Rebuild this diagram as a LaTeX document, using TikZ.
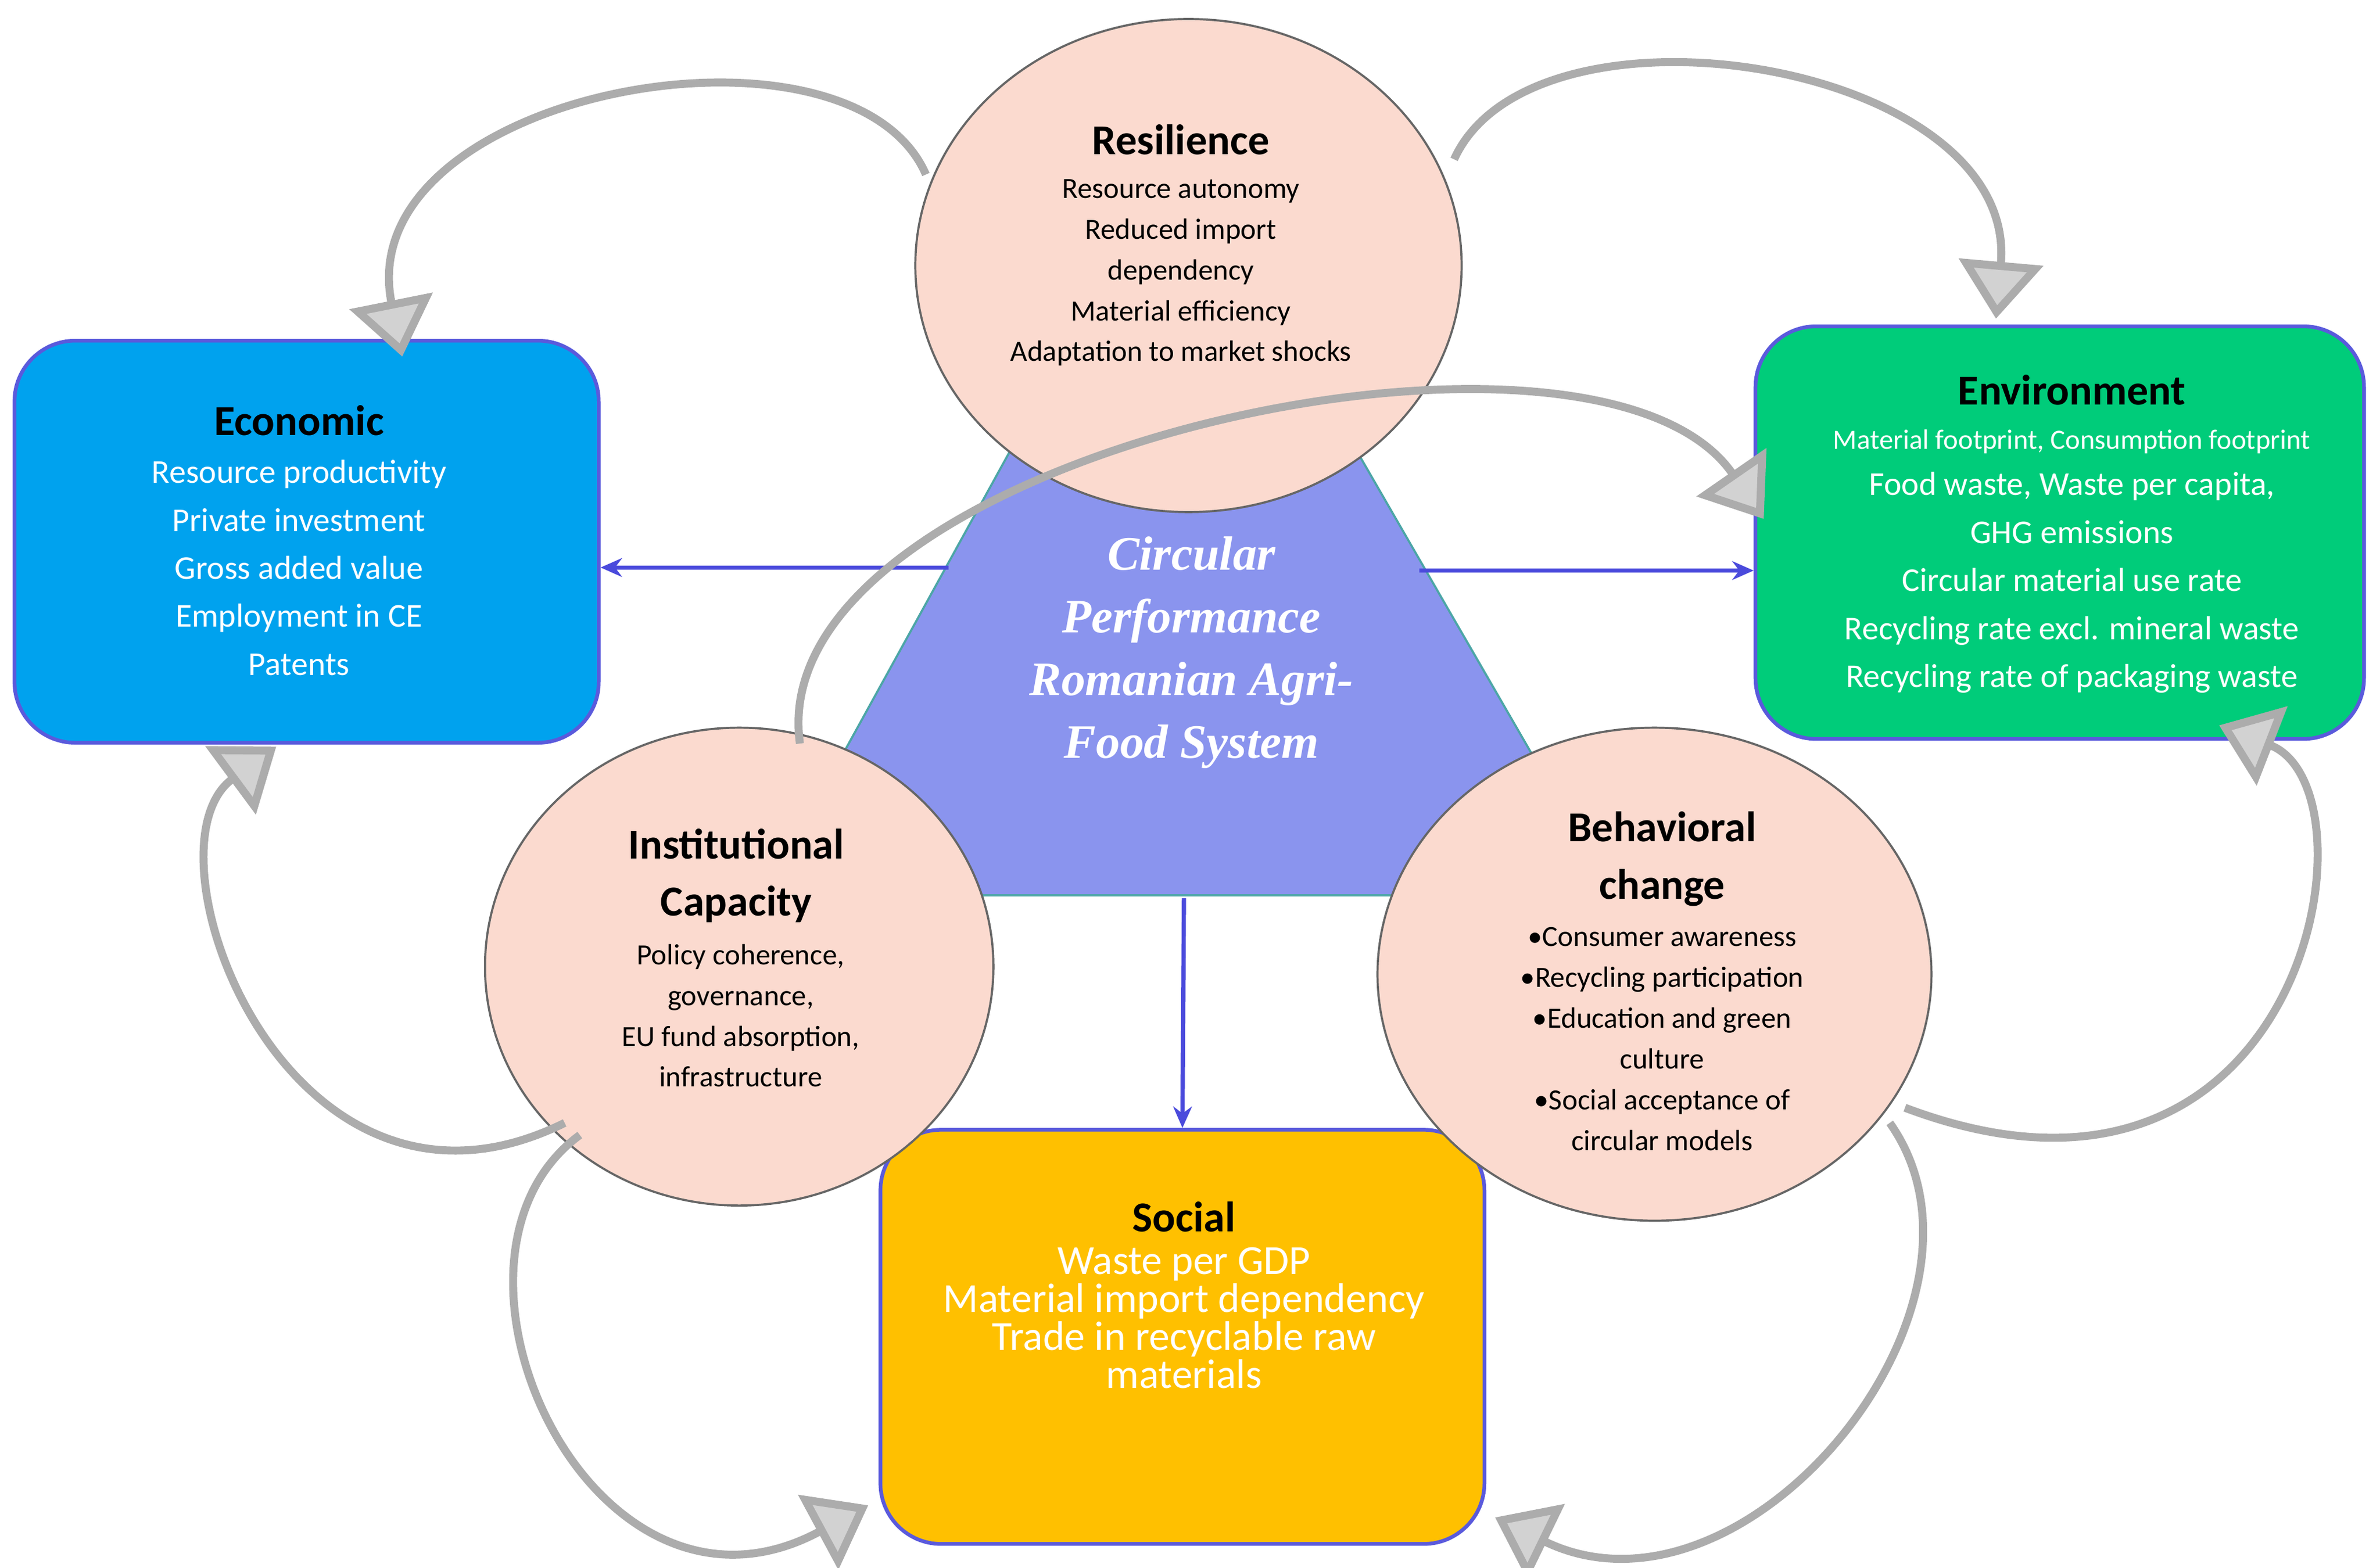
\documentclass[tikz,border=0pt]{standalone}
\usepackage{fontspec}
\setmainfont{Carlito}
\newfontfamily\serifit{Liberation Serif}
\usetikzlibrary{shapes.geometric,arrows.meta}
\definecolor{pinkc}{HTML}{FBDACF}
\definecolor{econc}{HTML}{00A2EE}
\definecolor{envc}{HTML}{00CC7A}
\definecolor{socc}{HTML}{FFC000}
\definecolor{tric}{HTML}{8A94EE}
\definecolor{edgec}{HTML}{5A5ADC}
\definecolor{bluea}{HTML}{4A4ADC}
\tikzset{
 circ/.style={ellipse,draw=gray!80!black,line width=0.8pt,fill=pinkc},
 box/.style={rounded corners=0.8cm,draw=edgec,line width=1.4pt},
 ttl/.style={font=\fontsize{16}{19}\selectfont\bfseries,text=black},
 body/.style={align=center,font=\fontsize{11}{15.3}\selectfont,text=black},
 wbody/.style={align=center,font=\fontsize{12.5}{18}\selectfont,text=white},
 barrow/.style={-{Stealth[length=8pt,width=7pt]},draw=bluea,line width=1.6pt},
 garrow/.style={-{Triangle[length=0.75cm,width=1.1cm,fill=gray!35]},draw=gray!65,line width=3pt}
}
\begin{document}
\begin{tikzpicture}[x=0.02cm,y=-0.02cm]
\useasboundingbox (0,0) rectangle (1568,1033);
% triangle
\filldraw[fill=tric,draw=teal!70,line width=0.8pt] (777,95) coordinate (ta) -- (504,590) coordinate (tl) -- (1063,590) coordinate (tr) -- cycle;
% boxes
\node[box,fill=econc,minimum width=7.7cm,minimum height=5.3cm] (econ) at (202,357) {};
\node[box,fill=envc,minimum width=8.02cm,minimum height=5.44cm] (env) at (1357,351) {};
\node[box,fill=socc,minimum width=7.96cm,minimum height=5.46cm] (soc) at (779,881) {};
% circles
\node[circ,minimum width=7.2cm,minimum height=6.5cm] (res) at (783,175) {};
\node[circ,minimum width=6.7cm,minimum height=6.3cm] (inst) at (487,637) {};
\node[circ,minimum width=7.3cm,minimum height=6.5cm] (beh) at (1090,642) {};
% triangle text
\node[align=center,text=white,font=\serifit\bfseries\itshape\fontsize{18}{23.5}\selectfont] (tt) at (785,430) {Circular\\Performance\\Romanian Agri-\\Food System};
% texts
\node[ttl] (rest) at (778,92) {Resilience};
\node[body,anchor=north] (resb) at (778,112) {Resource autonomy\\Reduced import\\dependency\\Material efficiency\\Adaptation to market shocks};
\node[ttl] (econt) at (197,277) {Economic};
\node[wbody,anchor=north] (econb) at (197,297) {Resource productivity\\Private investment\\Gross added value\\Employment in CE\\Patents};
\node[ttl] (envt) at (1365,257) {Environment};
\node[text=white,font=\fontsize{10.5}{13}\selectfont] (envs) at (1365,291) {Material footprint, Consumption footprint};
\node[wbody,anchor=north] (envb) at (1365,305) {Food waste, Waste per capita,\\GHG emissions\\Circular material use rate\\Recycling rate excl. mineral waste\\Recycling rate of packaging waste};
\node[align=center,font=\fontsize{16}{21.5}\selectfont\bfseries] (instt) at (485,577) {Institutional\\Capacity};
\node[body,anchor=north] (instb) at (488,616) {Policy coherence,\\governance,\\EU fund absorption,\\infrastructure};
\node[align=center,font=\fontsize{16}{21.5}\selectfont\bfseries] (beht) at (1095,566) {Behavioral\\change};
\node[body,anchor=north] (behb) at (1095,605) {•Consumer awareness\\•Recycling participation\\•Education and green\\culture\\•Social acceptance of\\circular models};
\node[ttl] (soct) at (780,802) {Social};
\node[align=center,text=white,font=\fontsize{15.5}{14.2}\selectfont,anchor=north] (socb) at (780,816) {Waste per GDP\\Material import dependency\\Trade in recyclable raw\\materials};
% blue arrows
\coordinate (bl) at (625,374); \coordinate (br) at (935,376); \coordinate (bb) at (780,592);
\draw[barrow] (bl) -- (econ.east |- bl);
\draw[barrow] (br) -- (env.west |- br);
\draw[barrow] (bb) -- (soc.north);
% gray curved arrows
\coordinate (g1s) at (610,115); \coordinate (g1e) at (265,235);
\draw[garrow] (g1s) .. controls (560,0) and (230,60) .. (g1e);
\coordinate (g2s) at (958,105); \coordinate (g2e) at (1315,210);
\draw[garrow] (g2s) .. controls (1010,-10) and (1330,40) .. (g2e);
\coordinate (g3s) at (1255,730); \coordinate (g3e) at (1462,478);
\draw[garrow] (g3s) .. controls (1520,830) and (1570,520) .. (g3e);
\coordinate (g4s) at (1245,740); \coordinate (g4e) at (985,1000);
\draw[garrow] (g4s) .. controls (1330,860) and (1150,1080) .. (g4e);
\coordinate (g5s) at (382,748); \coordinate (g5e) at (572,992);
\draw[garrow] (g5s) .. controls (270,830) and (390,1090) .. (g5e);
\coordinate (g6s) at (372,740); \coordinate (g6e) at (182,492);
\draw[garrow] (g6s) .. controls (190,830) and (90,560) .. (g6e);
\coordinate (g7s) at (527,490); \coordinate (g7e) at (1162,342);
\draw[garrow] (g7s) .. controls (500,300) and (1050,180) .. (g7e);
\end{tikzpicture}
\end{document}
